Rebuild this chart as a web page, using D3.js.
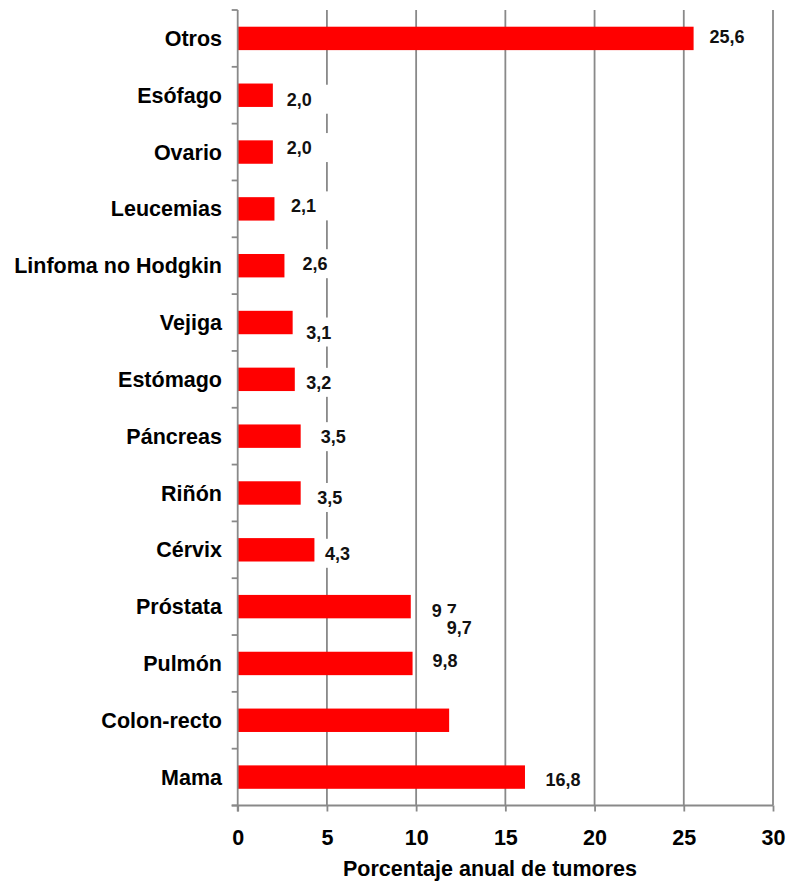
<!DOCTYPE html>
<html lang="es">
<head>
    <meta charset="UTF-8">
    <title>tumores</title>
    <script src="https://d3js.org/d3.v7.min.js"></script>
    <style>
        html, body {
            padding: 0;
            margin: 0;
            background-color: white;
        }
        svg text {
            font-family: "Liberation Sans", Arial, sans-serif;
            font-weight: bold;
        }
    </style>
</head>
<body>
<div id="chart"></div>
<script>
    // categorías, de arriba hacia abajo
    const categories = ["Otros", "Esófago", "Ovario", "Leucemias", "Linfoma no Hodgkin", "Vejiga",
        "Estómago", "Páncreas", "Riñón", "Cérvix", "Próstata", "Pulmón", "Colon-recto", "Mama"];

    // largo de las barras
    const values = [25.55, 1.97, 1.97, 2.06, 2.62, 3.08, 3.2, 3.53, 3.53, 4.3, 9.7, 9.8, 11.85, 16.1];

    // etiquetas de datos tal como aparecen (Colon-recto no tiene)
    const dataLabels = [["25,6"], ["2,0"], ["2,0"], ["2,1"], ["2,6"], ["3,1"], ["3,2"], ["3,5"], ["3,5"],
        ["4,3"], ["9,7", "9,7"], ["9,8"], [], ["16,8"]];

    const xTicks = [0, 5, 10, 15, 20, 25, 30];
    const xTitle = "Porcentaje anual de tumores";

    // pequeños desplazamientos de las etiquetas respecto al final de la barra [dx, dy]
    const nudge = [[[16, -2]], [[14, 4]], [[14, -4.5]], [[16.5, -3]], [[18, -2]], [[13.5, 9.5]],
        [[11.5, 3]], [[20, 0.5]], [[16.5, 4.5]], [[10.5, 3.5]], [[21, 4], [36, 21]], [[20, -3]], [], [[20.5, 2]]];

    const width = 787;
    const height = 883;
    const gridColor = "#898989";

    const svg = d3.select("#chart")
        .append("svg")
        .attr("width", width)
        .attr("height", height)
        .style("display", "block")
        .style("background", "white");

    const x = d3.scaleLinear()
        .domain([0, 30])
        .range([237.7, 773]);

    const y = d3.scaleBand()
        .domain(categories)
        .range([10, 805.5])
        .paddingInner(0.588)
        .paddingOuter(0.294);

    const yTop = y.range()[0];
    const yBottom = y.range()[1];

    // líneas verticales de división
    svg.append("g")
        .selectAll("line")
        .data(xTicks.slice(1))
        .join("line")
        .attr("x1", d => x(d))
        .attr("x2", d => x(d))
        .attr("y1", yTop)
        .attr("y2", yBottom)
        .attr("stroke", gridColor)
        .attr("stroke-width", 1.8);

    // barras
    svg.append("g")
        .selectAll("rect")
        .data(categories)
        .join("rect")
        .attr("x", x(0))
        .attr("y", d => y(d))
        .attr("width", (d, i) => x(values[i]) - x(0))
        .attr("height", y.bandwidth())
        .attr("fill", "#ff0000");

    // eje y con marcas entre categorías
    const yAxis = svg.append("g");
    yAxis.append("line")
        .attr("x1", x(0)).attr("x2", x(0))
        .attr("y1", yTop).attr("y2", yBottom + 6)
        .attr("stroke", gridColor).attr("stroke-width", 1.8);
    yAxis.selectAll("line.tick")
        .data(d3.range(categories.length + 1))
        .join("line")
        .attr("class", "tick")
        .attr("x1", x(0) - 6).attr("x2", x(0))
        .attr("y1", i => yTop + i * y.step())
        .attr("y2", i => yTop + i * y.step())
        .attr("stroke", gridColor).attr("stroke-width", 1.8);

    yAxis.selectAll("text")
        .data(categories)
        .join("text")
        .attr("x", 222)
        .attr("y", d => y(d) + y.bandwidth() / 2)
        .attr("dy", "0.35em")
        .attr("text-anchor", "end")
        .attr("font-size", 21.5)
        .attr("fill", "#000")
        .text(d => d);

    // eje x
    const xAxis = svg.append("g")
        .attr("transform", `translate(0,${yBottom})`)
        .call(d3.axisBottom(x).tickValues(xTicks).tickSize(6).tickSizeOuter(0).tickPadding(18));
    xAxis.select(".domain")
        .attr("d", `M${x(0) - 6},0H${x(30)}`)
        .attr("stroke", gridColor)
        .attr("stroke-width", 1.8);
    xAxis.selectAll(".tick line")
        .attr("stroke", gridColor)
        .attr("stroke-width", 1.8);
    xAxis.selectAll(".tick text")
        .attr("font-size", 21.5)
        .attr("font-family", "Liberation Sans, Arial, sans-serif")
        .attr("font-weight", "bold")
        .attr("fill", "#000");

    svg.append("text")
        .attr("x", 490)
        .attr("y", 876)
        .attr("text-anchor", "middle")
        .attr("font-size", 21.5)
        .attr("fill", "#000")
        .text(xTitle);

    // etiquetas de datos con fondo blanco
    const labelItems = [];
    categories.forEach((c, i) => {
        dataLabels[i].forEach((t, j) => {
            labelItems.push({
                text: t,
                x: x(values[i]) + nudge[i][j][0],
                y: y(c) + y.bandwidth() / 2 + nudge[i][j][1]
            });
        });
    });

    const lab = svg.append("g")
        .selectAll("g")
        .data(labelItems)
        .join("g")
        .attr("transform", d => `translate(${d.x},${d.y})`);

    lab.append("rect")
        .attr("x", -6)
        .attr("y", -14.5)
        .attr("width", 50)
        .attr("height", 29)
        .attr("fill", "white");

    lab.append("text")
        .attr("dy", "0.36em")
        .attr("font-size", 18)
        .attr("fill", "#111")
        .text(d => d.text);
</script>
</body>
</html>
